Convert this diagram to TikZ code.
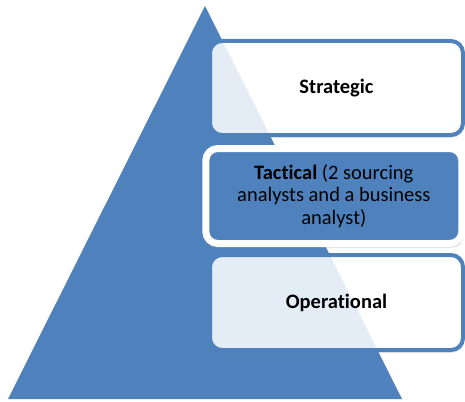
\documentclass[tikz,border=0pt]{standalone}
\usepackage{fontspec}
\setmainfont{Carlito}[Ligatures=NoCommon]
\usetikzlibrary{shadows}
\definecolor{pyrblue}{HTML}{4F81BD}
\tikzset{
  x=1pt, y=-1pt,
  levelbox/.style={rectangle, rounded corners=12pt, inner sep=0pt, outer sep=0pt,
    align=center, font=\fontsize{20.5}{22.5}\selectfont, text=black},
  lightbox/.style={levelbox, draw=pyrblue, line width=4pt, fill=white,
    drop shadow={shadow xshift=1.5pt, shadow yshift=-2.5pt, opacity=0.25},
    path picture={\fill[pyrblue, opacity=0.15] (bl) -- (apex) -- (br) -- cycle;}},
  darkbox/.style={levelbox, draw=white, line width=7pt, fill=pyrblue,
    drop shadow={shadow xshift=2pt, shadow yshift=-4pt, opacity=0.35}}
}
\begin{document}
\begin{tikzpicture}
\useasboundingbox (0,0) rectangle (465,401);
\coordinate (bl) at (8,399);
\coordinate (apex) at (205,6);
\coordinate (br) at (402,399);
\fill[pyrblue] (bl) -- (apex) -- (br) -- cycle;
\node[lightbox, minimum width=253pt, minimum height=94pt] (strategic) at (336.5,88) {\textbf{Strategic}};
\node[lightbox, minimum width=253pt, minimum height=95pt] (operational) at (336.5,302.5) {\textbf{Operational}};
\node[darkbox, minimum width=256pt, minimum height=95pt] (tactical) at (333.8,196) {\textbf{Tactical} (2 sourcing\\analysts and a business\\analyst)};
\end{tikzpicture}
\end{document}
